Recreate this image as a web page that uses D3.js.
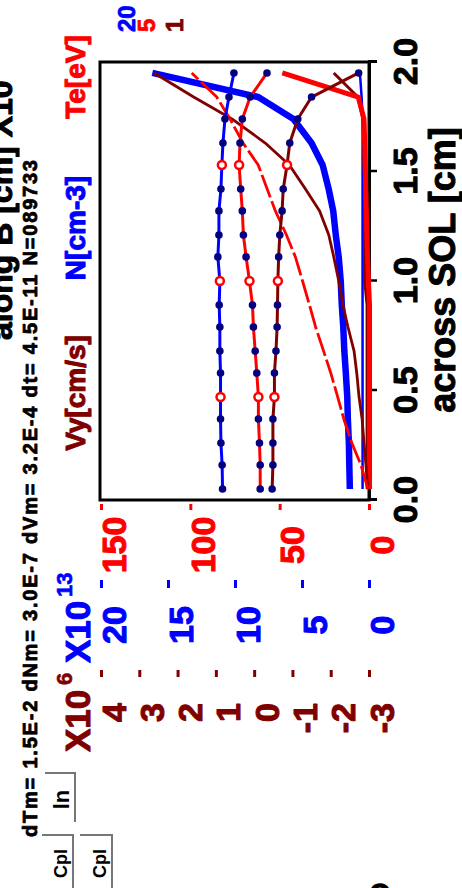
<!DOCTYPE html>
<html>
<head>
<meta charset="utf-8">
<script src="https://cdn.jsdelivr.net/npm/d3@7"></script>
<style>
body { margin: 0; background: #fff; }
svg { display: block; }
text { font-family: "Liberation Sans", Arial, sans-serif; font-weight: bold; }
</style>
</head>
<body>
<svg id="svg1" width="462" height="888"></svg>
<script>
// positions across the SOL (cell centres) [cm]
var xs = [0.05, 0.16, 0.26, 0.37, 0.47, 0.58, 0.68, 0.79, 0.89, 1.00,
          1.11, 1.21, 1.32, 1.42, 1.53, 1.63, 1.74, 1.84, 1.95];

// profiles drawn with markers
var nMarked  = [10.93, 10.96, 11.05, 11.08, 11.08, 11.08, 11.13, 11.13, 11.18, 11.13,
                11.28, 11.20, 11.20, 11.05, 10.98, 10.90, 10.75, 10.45, 10.08];
var teMarked = [60.9, 60.9, 61.3, 61.9, 61.9, 62.8, 63.7, 64.7, 65.2, 66.9,
                68.8, 70.3, 70.9, 71.8, 72.7, 72.2, 70.9, 66.5, 57.1];
var vyMarked = [-0.47, -0.49, -0.49, -0.49, -0.53, -0.53, -0.57, -0.60, -0.61, -0.62,
                -0.64, -0.67, -0.73, -0.76, -0.86, -0.93, -1.14, -1.50, -2.73];

// plain profiles
var nProfile  = [1.43, 1.47, 1.50, 1.58, 1.62, 1.73, 1.84, 1.92, 2.03, 2.11,
                 2.26, 2.48, 2.67, 3.01, 3.46, 4.29, 5.64, 8.27, 16.17];
var teProfile = [0.6, 4.5, 9.6, 14.1, 17.5, 21.4, 25.4, 29.9, 33.3, 37.2,
                 41.2, 46.2, 52.4, 57.0, 62.0, 70.5, 77.8, 85.2, 99.2];
var vyProfile = [-2.97, -2.92, -2.87, -2.82, -2.74, -2.68, -2.61, -2.45, -2.32, -2.21,
                 -2.08, -1.95, -1.71, -1.34, -0.92, -0.29, 0.58, 1.58, 2.61];

// profiles hugging the axis
var nWall  = [0.48, 0.48, 0.48, 0.48, 0.48, 0.48, 0.48, 0.48, 0.48, 0.48,
              0.48, 0.48, 0.48, 0.48, 0.48, 0.48, 0.48, 0.55, 0.68];
var teWall = [-0.3, -0.3, -0.3, -0.3, -0.3, -0.3, -0.3, -0.3, -0.3, 0.3,
              0.8, 1.2, 1.5, 1.8, 2.1, 2.4, 2.8, 6.0, 48.5];
var vyWall = [-2.95, -2.95, -2.95, -2.95, -2.95, -2.95, -2.95, -2.95, -2.95, -2.89,
              -2.89, -2.89, -2.89, -2.89, -2.87, -2.87, -2.84, -2.71, -2.08];

var ringIdx = [4, 9, 14];   // these points get an open red circle

var xTicks  = [0, 0.5, 1, 1.5, 2];
var teTicks = [0, 50, 100, 150];
var nTicks  = [0, 5, 10, 15, 20];
var vyTicks = [-3, -2, -1, 0, 1, 2, 3, 4];

var infoLine = 'dTm= 1.5E-2 dNm= 3.0E-7 dVm= 3.2E-4 dt= 4.5E-11 N=089733';

var BLUE = '#0000ff', RED = '#ff0000', DARK = '#800000', NAVY = '#000080';

var svg = d3.select('#svg1');

// the plot lies on its side: draw it 888 wide x 462 high, then turn it
var g = svg.append('g')
    .attr('transform', 'translate(0,888) rotate(-90)');

var x   = d3.scaleLinear().domain([0, 2]).range([388, 826]);
var yTe = d3.scaleLinear().domain([0, 150]).range([369, 101]);
var yN  = d3.scaleLinear().domain([0, 20]).range([369, 101]);
var yVy = d3.scaleLinear().domain([-3, 4]).range([369, 101]);

// heavier glyphs, like the original bitmap font
function heavy(sel, col, w) {
    sel.attr('stroke', col).attr('stroke-width', w || 1).attr('stroke-linejoin', 'round');
}

// frame
g.append('rect')
    .attr('x', x(0)).attr('y', 100)
    .attr('width', x(2) - x(0)).attr('height', 269)
    .attr('fill', 'none').attr('stroke', '#000').attr('stroke-width', 3);

// across SOL axis
var xAxis = g.append('g')
    .attr('transform', 'translate(0,369)')
    .call(d3.axisBottom(x).tickValues(xTicks).tickSize(8).tickPadding(16)
        .tickFormat(d3.format('.1f')));
xAxis.select('.domain').attr('stroke-width', 3);
xAxis.selectAll('.tick line').attr('stroke-width', 2.5);
xAxis.selectAll('text').attr('font-size', 34).attr('fill', '#000').call(heavy, '#000');

g.append('text')
    .attr('x', 618).attr('y', 455)
    .attr('text-anchor', 'middle').attr('font-size', 36)
    .call(heavy, '#000')
    .text('across SOL [cm]');

// three stacked value axes
function valueAxis(scale, ticks, pos, size, lx, anchor, col) {
    var a = g.append('g')
        .attr('transform', 'translate(' + pos + ',0)')
        .call(d3.axisLeft(scale).tickValues(ticks).tickSize(size)
            .tickFormat(function(d) { return String(d); }));
    a.select('.domain').remove();
    a.selectAll('.tick line').attr('stroke', col).attr('stroke-width', 3);
    a.selectAll('text')
        .attr('x', lx).attr('dy', 24)
        .attr('text-anchor', anchor)
        .attr('font-size', 34)
        .attr('fill', col)
        .call(heavy, col);
}
valueAxis(yTe, teTicks, 384, 6, -41, 'middle', RED);
valueAxis(yN,  nTicks,  308, 8, -45, 'middle', BLUE);
valueAxis(yVy, vyTicks, 218, 7, -33, 'end', DARK);

// exponents
g.append('text').attr('x', 225).attr('y', 90).attr('font-size', 35).attr('fill', BLUE).call(heavy, BLUE).text('X10');
g.append('text').attr('x', 291).attr('y', 72).attr('font-size', 22).attr('fill', BLUE).call(heavy, BLUE, 0.6).text('13');
g.append('text').attr('x', 136).attr('y', 90).attr('font-size', 35).attr('fill', DARK).call(heavy, DARK).text('X10');
g.append('text').attr('x', 203).attr('y', 72).attr('font-size', 22).attr('fill', DARK).call(heavy, DARK, 0.6).text('6');

// quantity names
g.append('text').attr('x', 811).attr('y', 85).attr('text-anchor', 'middle')
    .attr('font-size', 28).attr('fill', RED).call(heavy, RED).text('Te[eV]');
g.append('text').attr('x', 660).attr('y', 85).attr('text-anchor', 'middle')
    .attr('font-size', 28).attr('fill', BLUE).call(heavy, BLUE).text('N[cm-3]');
g.append('text').attr('x', 495).attr('y', 85).attr('text-anchor', 'middle')
    .attr('font-size', 28).attr('fill', DARK).call(heavy, DARK).text('Vy[cm/s]');

// small marks in the corner
g.append('text').attr('x', 856).attr('y', 135).attr('font-size', 24).attr('fill', BLUE).call(heavy, BLUE, 0.8).text('20');
g.append('text').attr('x', 856).attr('y', 155).attr('font-size', 24).attr('fill', RED).call(heavy, RED, 0.8).text('5');
g.append('text').attr('x', 856).attr('y', 183).attr('font-size', 24).attr('fill', DARK).call(heavy, DARK, 0.8).text('1');

// title (runs off the edge) and run info
g.append('text').attr('x', 548).attr('y', 12).attr('font-size', 32).call(heavy, '#000').text('along B [cm] X10');
g.append('text').attr('x', 51).attr('y', 37).attr('font-size', 20)
    .attr('textLength', 677).attr('lengthAdjust', 'spacing')
    .call(heavy, '#000', 0.8)
    .text(infoLine);

// buttons
function button(u0, u1, v0, v1, label, fs) {
    g.append('path')
        .attr('d', 'M' + u1 + ',' + v0 + 'V' + v1 + 'H' + u0)
        .attr('fill', 'none').attr('stroke', '#777').attr('stroke-width', 2);
    g.append('text').attr('x', (u0 + u1) / 2 - 2).attr('y', v1 - 6)
        .attr('text-anchor', 'middle').attr('font-size', fs).text(label);
}
button(66, 115, 45, 75, 'ln', 22);
button(0, 53, 42, 73, 'Cpl', 18);
button(0, 53, 80, 112, 'Cpl', 18);
g.append('text').attr('x', 6).attr('y', 390).attr('text-anchor', 'end')
    .attr('font-size', 30).text('O');

// curves
function pts(arr) { return arr.map(function(v, i) { return { x: xs[i], v: v }; }); }
function curve(arr, scale, col, w, dash) {
    var line = d3.line().x(function(d) { return x(d.x); }).y(function(d) { return scale(d.v); });
    g.append('path')
        .datum(pts(arr))
        .attr('d', line)
        .attr('fill', 'none')
        .attr('stroke', col)
        .attr('stroke-width', w)
        .attr('stroke-linejoin', 'round')
        .attr('stroke-dasharray', dash || null);
}
curve(nWall, yN, BLUE, 2.5);
curve(vyWall, yVy, DARK, 3);
curve(teWall, yTe, RED, 5);
curve(nProfile, yN, BLUE, 6.5);
curve(vyProfile, yVy, DARK, 2.8);
curve(teProfile, yTe, RED, 2.8, '24,4');
curve(nMarked, yN, BLUE, 3);
curve(teMarked, yTe, RED, 3);
curve(vyMarked, yVy, DARK, 3);

// markers
function markers(arr, scale) {
    var d = pts(arr);
    g.selectAll(null)
        .data(d.filter(function(p, i) { return ringIdx.indexOf(i) < 0; }))
        .enter().append('circle')
        .attr('cx', function(p) { return x(p.x); })
        .attr('cy', function(p) { return scale(p.v); })
        .attr('r', 3.8)
        .attr('fill', NAVY);
    g.selectAll(null)
        .data(d.filter(function(p, i) { return ringIdx.indexOf(i) >= 0; }))
        .enter().append('circle')
        .attr('cx', function(p) { return x(p.x); })
        .attr('cy', function(p) { return scale(p.v); })
        .attr('r', 4)
        .attr('fill', '#fff')
        .attr('stroke', RED)
        .attr('stroke-width', 2.5);
}
markers(nMarked, yN);
markers(teMarked, yTe);
markers(vyMarked, yVy);
</script>
</body>
</html>
